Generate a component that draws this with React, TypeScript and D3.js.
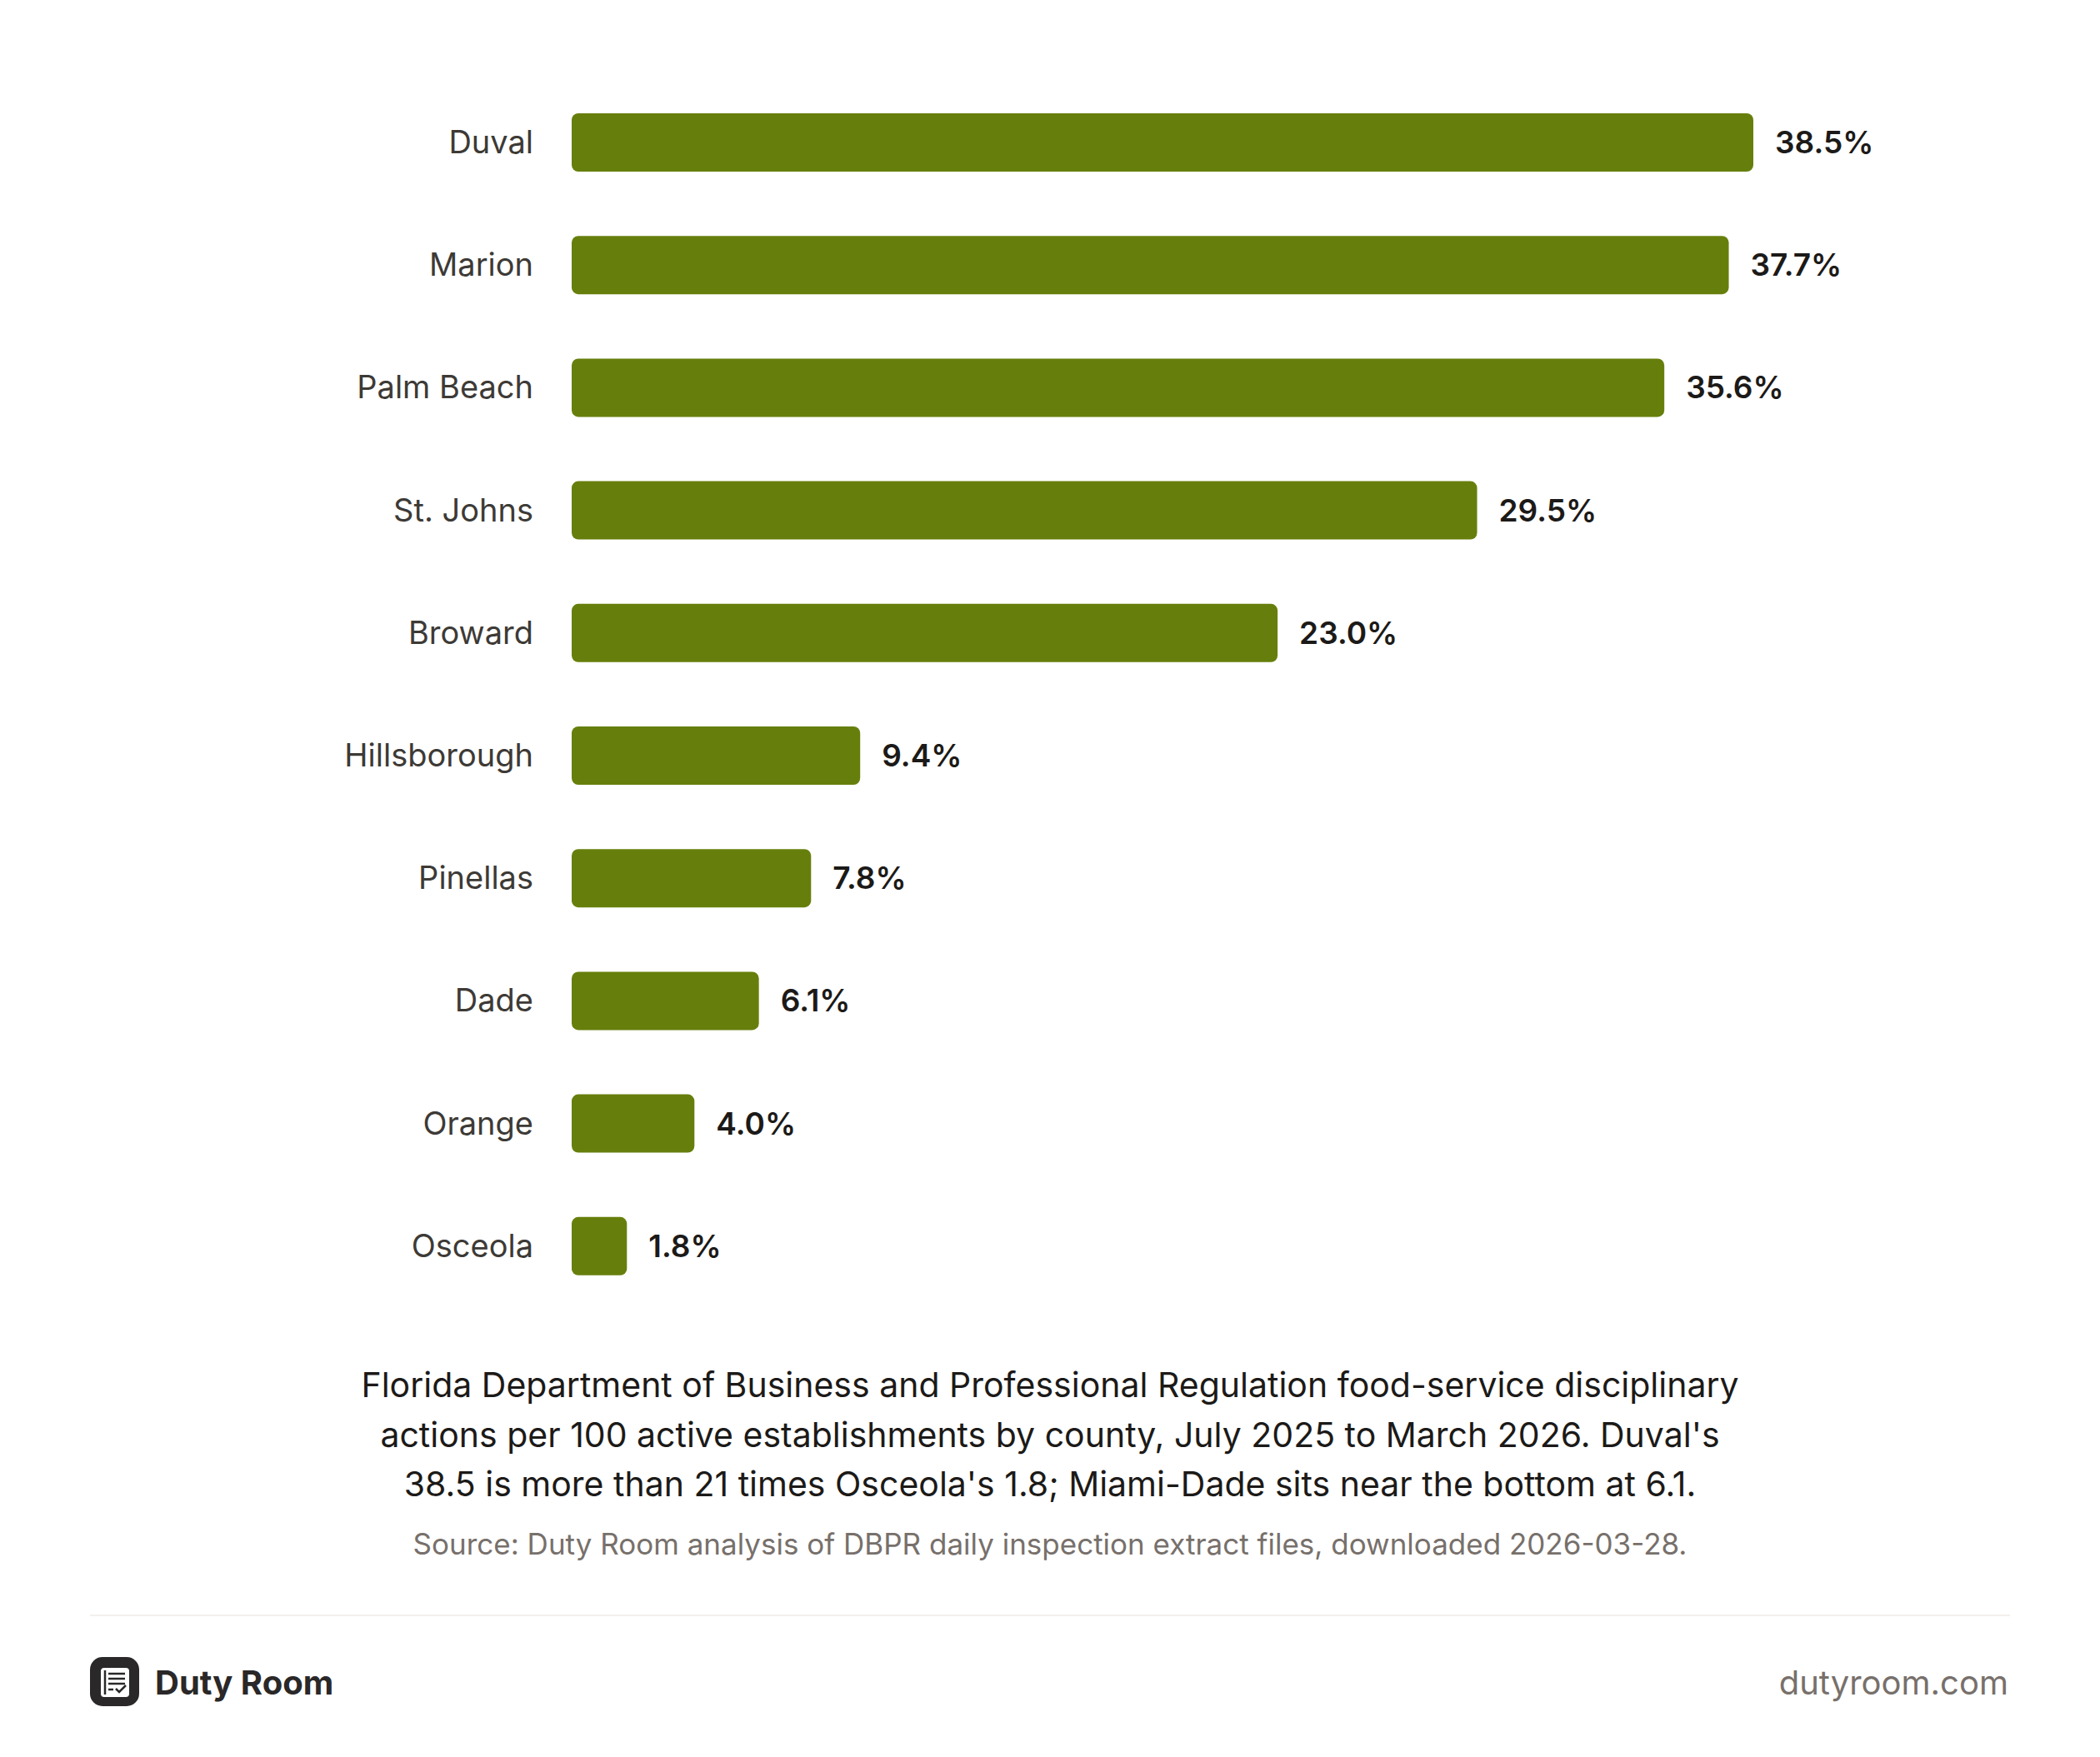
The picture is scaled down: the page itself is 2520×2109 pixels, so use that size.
import React from 'react';
import * as d3 from 'd3';

const counties = ['Duval', 'Marion', 'Palm Beach', 'St. Johns', 'Broward', 'Hillsborough', 'Pinellas', 'Dade', 'Orange', 'Osceola'];
const actionsPer100 = [38.5, 37.7, 35.6, 29.5, 23.0, 9.4, 7.8, 6.1, 4.0, 1.8];

const captionLines = [
  'Florida Department of Business and Professional Regulation food-service disciplinary',
  "actions per 100 active establishments by county, July 2025 to March 2026. Duval's",
  "38.5 is more than 21 times Osceola's 1.8; Miami-Dade sits near the bottom at 6.1.",
];
const sourceLine = 'Source: Duty Room analysis of DBPR daily inspection extract files, downloaded 2026-03-28.';
const brandName = 'Duty Room';
const brandUrl = 'dutyroom.com';

const width = 2520;
const height = 2109;
const font = 'Inter, "Noto Sans", sans-serif';
const barColor = '#667f0c';

type Row = { county: string; value: number };
const rows: Row[] = counties.map((county, i) => ({ county, value: actionsPer100[i] }));

const App: React.FC = () => {
  const x = d3
    .scaleLinear()
    .domain([0, d3.max(actionsPer100) ?? 1])
    .range([686, 2104]);

  // 147px per row, 70px tall bars
  const padInner = 1 - 70 / 147.2;
  const y = d3
    .scaleBand<string>()
    .domain(counties)
    .range([97.4, 97.4 + 147.2 * counties.length])
    .paddingInner(padInner)
    .paddingOuter(padInner / 2);

  const fmt = d3.format('.1f');

  return (
    <div style={{ position: 'absolute', left: 0, top: 0, background: '#ffffff' }}>
      <svg width={width} height={height} viewBox={`0 0 ${width} ${height}`} style={{ display: 'block' }}>
        <rect width={width} height={height} fill="#ffffff" />

        <g className="bars">
          {rows.map(d => {
            const top = y(d.county) ?? 0;
            const mid = top + y.bandwidth() / 2;
            return (
              <g key={d.county}>
                <text
                  x={x(0) - 46}
                  y={mid + 13}
                  textAnchor="end"
                  fontFamily={font}
                  fontSize={38}
                  fill="#3d3a36"
                >
                  {d.county}
                </text>
                <rect
                  x={x(0)}
                  y={top}
                  width={x(d.value) - x(0)}
                  height={y.bandwidth()}
                  rx={8}
                  ry={8}
                  fill={barColor}
                />
                <text
                  x={x(d.value) + 26}
                  y={mid + 13}
                  fontFamily={font}
                  fontSize={37}
                  fontWeight={600}
                  fill="#1c1a18"
                >
                  {`${fmt(d.value)}%`}
                </text>
              </g>
            );
          })}
        </g>

        <g className="caption" fontFamily={font} textAnchor="middle">
          {captionLines.map((line, i) => (
            <text key={i} x={width / 2} y={1677 + i * 59.5} fontSize={41} fill="#1c1a18">
              {line}
            </text>
          ))}
          <text x={width / 2} y={1866} fontSize={35} fill="#77706b">
            {sourceLine}
          </text>
        </g>

        <line x1={108} x2={2412} y1={1939} y2={1939} stroke="#f2f0ed" strokeWidth={2} />

        <g className="brand">
          <rect x={108} y={1989} width={59} height={59} rx={15} fill="#2a2828" />
          <rect x={121} y={2002} width={34} height={35} rx={4} fill="#ffffff" />
          <line x1={126} x2={126} y1={2005} y2={2034} stroke="#2a2828" strokeWidth={2.5} />
          <line x1={130} x2={150} y1={2009} y2={2009} stroke="#2a2828" strokeWidth={2.5} />
          <line x1={130} x2={150} y1={2015} y2={2015} stroke="#2a2828" strokeWidth={2.5} />
          <line x1={130} x2={150} y1={2021} y2={2021} stroke="#2a2828" strokeWidth={2.5} />
          <line x1={130} x2={136} y1={2028} y2={2028} stroke="#2a2828" strokeWidth={2.5} />
          <path d="M139,2027 L143,2031 L151,2023" fill="none" stroke="#2a2828" strokeWidth={2.5} />
          <text x={186} y={2034} fontFamily={font} fontSize={40} fontWeight={650} fill="#2a2828">
            {brandName}
          </text>
          <text x={2410} y={2034} textAnchor="end" fontFamily={font} fontSize={40} fill="#77706b">
            {brandUrl}
          </text>
        </g>
      </svg>
    </div>
  );
};

export default App;
